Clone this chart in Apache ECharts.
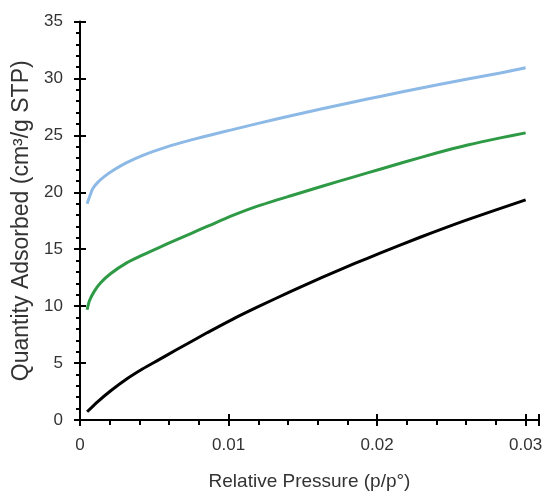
<!DOCTYPE html>
<html>
<head>
<meta charset="utf-8">
<script src="https://cdn.jsdelivr.net/npm/echarts@6/dist/echarts.min.js"></script>
<style>html,body{margin:0;padding:0;background:#fff}#c{width:558px;height:496px}</style>
</head>
<body>
<div id="c"></div>
<script>
const blueX = [0.00048,0.00085,0.00118,0.00161,0.00227,0.00314,0.00423,0.00575,0.0075,0.009,0.0102,0.012,0.0142,0.0163,0.0185,0.0202,0.0218,0.024,0.0261,0.0283,0.03];
const blueY = [19.0,20.3,20.85,21.35,21.95,22.6,23.25,23.95,24.6,25.1,25.48,26.05,26.72,27.33,27.95,28.42,28.85,29.42,29.95,30.48,30.93];
const greenX = [0.00048,0.00063,0.00096,0.00139,0.00205,0.00314,0.00423,0.00532,0.0064,0.0075,0.0086,0.0102,0.012,0.0142,0.0163,0.0185,0.0202,0.0218,0.024,0.0261,0.0283,0.03];
const greenY = [9.68,10.45,11.3,12.05,12.85,13.8,14.5,15.15,15.77,16.4,17.02,17.92,18.8,19.7,20.53,21.38,22.02,22.64,23.45,24.15,24.78,25.22];
const blackX = [0.00048,0.00118,0.00205,0.00314,0.00423,0.00532,0.0064,0.0075,0.00858,0.0102,0.012,0.0142,0.0163,0.0185,0.0202,0.0229,0.0261,0.03];
const blackY = [0.72,1.6,2.55,3.6,4.5,5.3,6.1,6.9,7.68,8.8,9.95,11.3,12.52,13.75,14.65,16.05,17.6,19.33];
const xTicks = [0, 0.01, 0.02, 0.03];
const xTitle = 'Relative Pressure (p/p°)';
const yTitle = 'Quantity Adsorbed (cm³/g STP)';

const pair = (xs, ys) => xs.map((x, i) => [x, ys[i]]);
const font = 'Liberation Sans, Arial, sans-serif';
const txt = '#333';

const chart = echarts.init(document.getElementById('c'), null, {renderer: 'canvas'});
const yBase = {
  type: 'value', min: 0, max: 35, interval: 5,
  splitLine: {show: false},
  axisLine: {show: true, lineStyle: {color: '#000', width: 2}}
};
const lineOpts = {type: 'line', showSymbol: false, smooth: 0.2};
chart.setOption({
  animation: false,
  backgroundColor: '#fff',
  grid: {left: 80, right: 19, top: 21.5, bottom: 72, containLabel: false},
  xAxis: [{
    type: 'value', min: 0, max: 0.0309, interval: 0.01,
    splitLine: {show: false},
    axisLine: {show: true, onZero: false, lineStyle: {color: '#000', width: 2}},
    axisTick: {show: true, inside: false, length: 6, lineStyle: {color: '#000', width: 2}},
    minorTick: {show: true, splitNumber: 5, length: 5, lineStyle: {color: '#000', width: 2}},
    axisLabel: {
      margin: 17, color: txt, fontSize: 17, fontFamily: font, showMaxLabel: false,
      formatter: v => { const m = xTicks.find(t => Math.abs(t - v) < 1e-9); return m === undefined ? '' : String(m); }
    },
    name: xTitle, nameLocation: 'middle', nameGap: 52,
    nameTextStyle: {color: txt, fontSize: 19, fontFamily: font}
  }, {
    type: 'value', min: 0, max: 0.0309, interval: 0.01, position: 'bottom',
    splitLine: {show: false}, axisLine: {show: false}, axisLabel: {show: false},
    axisTick: {show: true, inside: true, length: 6, lineStyle: {color: '#000', width: 2}}
  }],
  yAxis: [Object.assign({}, yBase, {
    axisTick: {show: true, inside: false, length: 6, lineStyle: {color: '#000', width: 2}},
    minorTick: {show: true, splitNumber: 5, length: 4, lineStyle: {color: '#000', width: 2}},
    axisLabel: {margin: 17, color: txt, fontSize: 17, fontFamily: font},
    name: yTitle, nameLocation: 'middle', nameGap: 45,
    nameTextStyle: {color: txt, fontSize: 23, fontFamily: font}
  }), Object.assign({}, yBase, {
    position: 'left', axisLine: {show: false}, axisLabel: {show: false},
    axisTick: {show: true, inside: true, length: 6, lineStyle: {color: '#000', width: 2}}
  })],
  series: [
    Object.assign({}, lineOpts, {data: pair(blueX, blueY), lineStyle: {color: '#8db9e6', width: 3}}),
    Object.assign({}, lineOpts, {data: pair(greenX, greenY), lineStyle: {color: '#2f9a45', width: 3}}),
    Object.assign({}, lineOpts, {data: pair(blackX, blackY), lineStyle: {color: '#000', width: 3}})
  ]
});
</script>
</body>
</html>
